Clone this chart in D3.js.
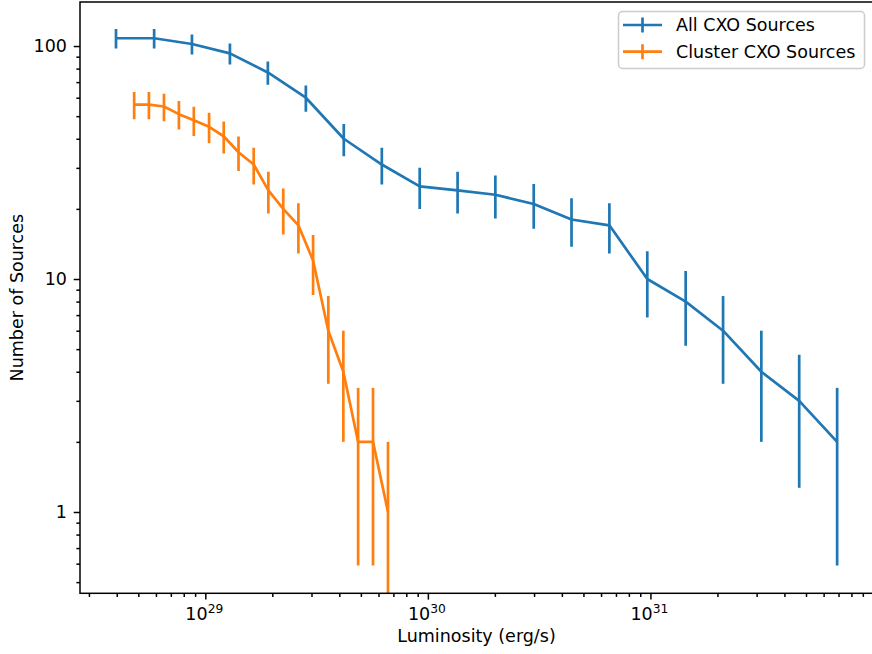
<!DOCTYPE html>
<html>
<head>
<meta charset="utf-8">
<script src="https://cdn.jsdelivr.net/npm/d3@7"></script>
<style>
  body { margin: 0; background: white; }
  svg { display: block; font-family: "DejaVu Sans", sans-serif; }
</style>
</head>
<body>
<svg id="chart" width="872" height="654"></svg>
<script>
// luminosity bins (erg/s) and source counts
var allLum = [3.97e28, 5.89e28, 8.71e28, 1.29e29, 1.91e29, 2.83e29, 4.19e29, 6.21e29, 9.19e29, 1.36e30,
  2.01e30, 2.99e30, 4.42e30, 6.54e30, 9.68e30, 1.44e31, 2.12e31, 3.15e31, 4.66e31, 6.90e31]
var allCounts = [108, 108, 102, 93, 77, 60, 40, 31, 25, 24, 23, 21, 18, 17, 10, 8, 6, 4, 3, 2]
var allErr = [10.39, 10.39, 10.10, 9.64, 8.77, 7.75, 6.32, 5.57, 5.00, 4.90, 4.80, 4.58, 4.24, 4.12, 3.16, 2.83, 2.45, 2.00, 1.73, 1.41]

var clusterLum = [4.79e28, 5.58e28, 6.52e28, 7.61e28, 8.88e28, 1.04e29, 1.21e29, 1.41e29, 1.65e29,
  1.92e29, 2.24e29, 2.62e29, 3.05e29, 3.57e29, 4.17e29, 4.86e29, 5.67e29, 6.62e29]
var clusterCounts = [56, 56, 55, 51, 48, 45, 41, 35, 31, 24, 20, 17, 12, 6, 4, 2, 2, 1]
var clusterErr = [7.48, 7.48, 7.42, 7.14, 6.93, 6.71, 6.40, 5.92, 5.57, 4.90, 4.47, 4.12, 3.46, 2.45, 2.00, 1.41, 1.41, 1.00]

var seriesNames = ['All CXO Sources', 'Cluster CXO Sources']
var seriesColors = ['#1f77b4', '#ff7f0e']

var xMajor = [1e29, 1e30, 1e31]
var xMajorExp = ['29', '30', '31']
var yMajor = [1, 10, 100]
var yMajorLabels = ['1', '10', '100']

var plot = { left: 80, right: 873, top: 2, bottom: 593.3 }
var fontSize = 17.5

var svg = d3.select('#chart')

var x = d3.scaleLog()
  .domain([Math.pow(10, 28.437), Math.pow(10, 32.0)])
  .range([plot.left, plot.right])
var y = d3.scaleLog()
  .domain([Math.pow(10, -0.349), Math.pow(10, 2.189)])
  .range([plot.bottom, plot.top])

function minorTicks (scale) {
  var d = scale.domain()
  var out = []
  for (var e = Math.floor(Math.log10(d[0])); e <= Math.ceil(Math.log10(d[1])); e++) {
    for (var k = 2; k <= 9; k++) {
      var v = k * Math.pow(10, e)
      if (v >= d[0] && v <= d[1]) out.push(v)
    }
  }
  return out
}

svg.append('clipPath').attr('id', 'plotclip')
  .append('rect')
  .attr('x', plot.left).attr('y', plot.top)
  .attr('width', plot.right - plot.left).attr('height', plot.bottom - plot.top)

// axes ticks
function drawTicks (g, axis) {
  g.call(axis)
  g.select('.domain').remove()
  g.selectAll('line').attr('stroke', '#000').attr('stroke-width', 1.5)
  g.selectAll('text').remove()
}
drawTicks(svg.append('g').attr('transform', 'translate(0,' + plot.bottom + ')'),
  d3.axisBottom(x).tickValues(xMajor).tickSize(6.3).tickSizeOuter(0))
drawTicks(svg.append('g').attr('transform', 'translate(0,' + plot.bottom + ')'),
  d3.axisBottom(x).tickValues(minorTicks(x)).tickSize(3.6).tickSizeOuter(0))
drawTicks(svg.append('g').attr('transform', 'translate(' + plot.left + ',0)'),
  d3.axisLeft(y).tickValues(yMajor).tickSize(6.3).tickSizeOuter(0))
drawTicks(svg.append('g').attr('transform', 'translate(' + plot.left + ',0)'),
  d3.axisLeft(y).tickValues(minorTicks(y)).tickSize(3.6).tickSizeOuter(0))

// tick labels
xMajor.forEach(function (v, i) {
  var t = svg.append('text')
    .attr('x', x(v) - 1)
    .attr('y', 620)
    .attr('text-anchor', 'middle')
    .attr('font-size', fontSize)
  t.append('tspan').text('10')
  t.append('tspan').attr('dy', -7).attr('font-size', fontSize * 0.7).text(xMajorExp[i])
})
yMajor.forEach(function (v, i) {
  svg.append('text')
    .attr('x', 67)
    .attr('y', y(v))
    .attr('dy', '0.36em')
    .attr('text-anchor', 'end')
    .attr('font-size', fontSize)
    .text(yMajorLabels[i])
})

svg.append('text')
  .attr('x', (plot.left + plot.right) / 2)
  .attr('y', 642)
  .attr('text-anchor', 'middle')
  .attr('font-size', fontSize)
  .text('Luminosity (erg/s)')
svg.append('text')
  .attr('transform', 'translate(23.3,' + ((plot.top + plot.bottom) / 2) + ') rotate(-90)')
  .attr('text-anchor', 'middle')
  .attr('font-size', fontSize)
  .text('Number of Sources')

// series
function drawSeries (lum, counts, errs, color) {
  var g = svg.append('g').attr('clip-path', 'url(#plotclip)')
  var pts = lum.map(function (l, i) { return { l: l, n: counts[i], e: errs[i] } })
  g.selectAll('line.err')
    .data(pts)
    .enter()
    .append('line')
    .attr('class', 'err')
    .attr('x1', d => x(d.l))
    .attr('x2', d => x(d.l))
    .attr('y1', d => (d.n - d.e) > 0 ? y(d.n - d.e) : plot.bottom + 10)
    .attr('y2', d => y(d.n + d.e))
    .attr('stroke', color)
    .attr('stroke-width', 2.7)
  g.append('path')
    .datum(pts)
    .attr('d', d3.line().x(d => x(d.l)).y(d => y(d.n)))
    .attr('fill', 'none')
    .attr('stroke', color)
    .attr('stroke-width', 2.7)
    .attr('stroke-linejoin', 'round')
}
drawSeries(allLum, allCounts, allErr, seriesColors[0])
drawSeries(clusterLum, clusterCounts, clusterErr, seriesColors[1])

// frame (right spine sits just past the image edge)
svg.append('rect')
  .attr('x', plot.left).attr('y', plot.top)
  .attr('width', plot.right - plot.left).attr('height', plot.bottom - plot.top)
  .attr('fill', 'none')
  .attr('stroke', '#000')
  .attr('stroke-width', 1.5)

// legend
var leg = svg.append('g')
leg.append('rect')
  .attr('x', 618.5).attr('y', 11.5)
  .attr('width', 246).attr('height', 57)
  .attr('rx', 4)
  .attr('fill', 'white').attr('fill-opacity', 0.8)
  .attr('stroke', '#cccccc').attr('stroke-width', 1.5)
seriesNames.forEach(function (name, i) {
  var cy = 25 + i * 26.7
  leg.append('line')
    .attr('x1', 623).attr('x2', 662).attr('y1', cy).attr('y2', cy)
    .attr('stroke', seriesColors[i]).attr('stroke-width', 2.7)
  leg.append('line')
    .attr('x1', 642.5).attr('x2', 642.5).attr('y1', cy - 7.5).attr('y2', cy + 7.5)
    .attr('stroke', seriesColors[i]).attr('stroke-width', 2.7)
  leg.append('text')
    .attr('x', 676).attr('y', cy)
    .attr('dy', '0.36em')
    .attr('font-size', fontSize)
    .text(name)
})
</script>
</body>
</html>
